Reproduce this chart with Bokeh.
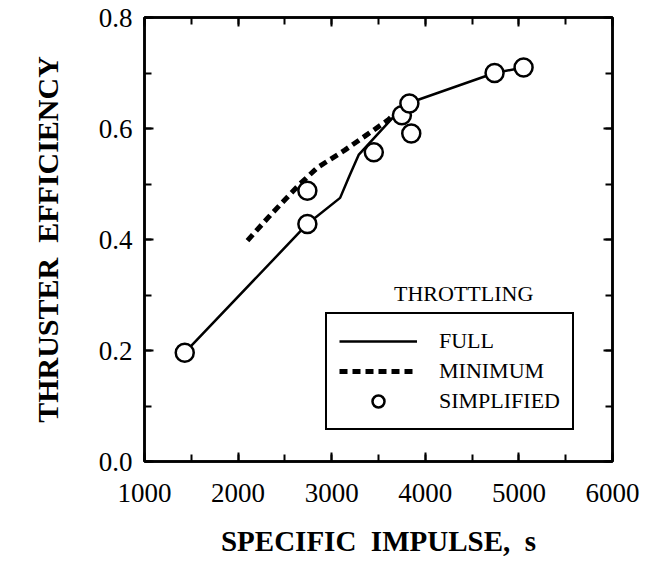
from bokeh.plotting import figure
from bokeh.models import (Range1d, LinearAxis, SingleIntervalTicker, PrintfTickFormatter,
                          Legend, LegendItem, Label)
from bokeh.embed import file_html
from bokeh.resources import INLINE

# --- data ---
full_x = [1430, 2740, 3090, 3190, 3290, 3700, 3810, 4740, 5050]
full_y = [0.196, 0.428, 0.475, 0.515, 0.553, 0.628, 0.645, 0.700, 0.710]

min_x = [2100, 2350, 2660, 2850, 3140, 3370, 3600, 3630]
min_y = [0.398, 0.445, 0.500, 0.530, 0.561, 0.588, 0.615, 0.620]

simp_x = [1430, 2740, 2740, 3450, 3750, 3850, 3830, 4740, 5050]
simp_y = [0.196, 0.488, 0.428, 0.557, 0.624, 0.591, 0.645, 0.700, 0.710]

x_label = "SPECIFIC\u00a0 IMPULSE,\u00a0 s"
y_label = "THRUSTER\u00a0 EFFICIENCY"
legend_title = "THROTTLING"
series_names = ["FULL", "MINIMUM", "SIMPLIFIED"]

FONT = "Liberation Serif"

p = figure(frame_width=468, frame_height=444,
           min_border_left=144, min_border_right=32,
           min_border_top=17, min_border_bottom=90,
           x_range=Range1d(1000, 6000), y_range=Range1d(0, 0.8),
           output_backend="svg", toolbar_location=None,
           x_axis_location=None, y_axis_location=None)
p.background_fill_color = "white"
p.border_fill_color = "white"
p.grid.visible = False
p.outline_line_color = "black"
p.outline_line_width = 2.5
p.outline_line_alpha = 1


def style_axis(ax, ticker, show_labels):
    ax.ticker = ticker
    ax.axis_line_width = 2.5
    ax.axis_line_color = "black"
    ax.major_tick_in = 9
    ax.major_tick_out = 0
    ax.minor_tick_in = 7
    ax.minor_tick_out = 0
    ax.major_tick_line_width = 2
    ax.minor_tick_line_width = 2
    ax.major_tick_line_color = "black"
    ax.minor_tick_line_color = "black"
    if show_labels:
        ax.major_label_text_font = FONT
        ax.major_label_text_font_size = "27px"
        ax.major_label_text_color = "black"
        ax.axis_label_text_color = "black"
    else:
        ax.major_label_text_color = None
        ax.major_label_text_font_size = "0px"


xt = lambda: SingleIntervalTicker(interval=1000, num_minor_ticks=2)
yt = lambda: SingleIntervalTicker(interval=0.2, num_minor_ticks=2)

xb = LinearAxis(formatter=PrintfTickFormatter(format="%d"))
style_axis(xb, xt(), True)
xb.major_label_standoff = 22
xb.axis_label = x_label
xb.axis_label_text_font = FONT
xb.axis_label_text_font_style = "bold"
xb.axis_label_text_font_size = "29px"
xb.axis_label_standoff = 20
p.add_layout(xb, "below")

yl = LinearAxis(formatter=PrintfTickFormatter(format="%.1f"))
style_axis(yl, yt(), True)
yl.major_label_standoff = 12
yl.axis_label = y_label
yl.axis_label_text_font = FONT
yl.axis_label_text_font_style = "bold"
yl.axis_label_text_font_size = "30px"
yl.axis_label_standoff = 32
p.add_layout(yl, "left")

xtop = LinearAxis()
style_axis(xtop, xt(), False)
p.add_layout(xtop, "above")

yr = LinearAxis()
style_axis(yr, yt(), False)
p.add_layout(yr, "right")

r_full = p.line(full_x, full_y, line_color="black", line_width=2.5)
r_min = p.line(min_x, min_y, line_color="black", line_width=5, line_dash="8 5")
r_simp = p.scatter(simp_x, simp_y, size=18, marker="circle", fill_color="white",
                   line_color="black", line_width=2.5)

legend = Legend(items=[LegendItem(label=series_names[0], renderers=[r_full]),
                       LegendItem(label=series_names[1], renderers=[r_min]),
                       LegendItem(label=series_names[2], renderers=[r_simp])],
                location=(181, 31))
legend.label_text_font = FONT
legend.label_text_font_size = "22px"
legend.label_text_color = "black"
legend.glyph_width = 78
legend.glyph_height = 30
legend.label_height = 30
legend.label_standoff = 22
legend.spacing = 0
legend.padding = 12
legend.margin = 0
legend.border_line_color = "black"
legend.border_line_alpha = 1
legend.border_line_width = 2.5
legend.background_fill_color = "white"
legend.background_fill_alpha = 1
p.add_layout(legend, "center")

title = Label(x=4410, y=0.303, text=legend_title, text_font=FONT,
              text_font_size="22px", text_align="center", text_baseline="middle",
              text_color="black")
p.add_layout(title)

open("out.html", "w").write(file_html(p, INLINE))
